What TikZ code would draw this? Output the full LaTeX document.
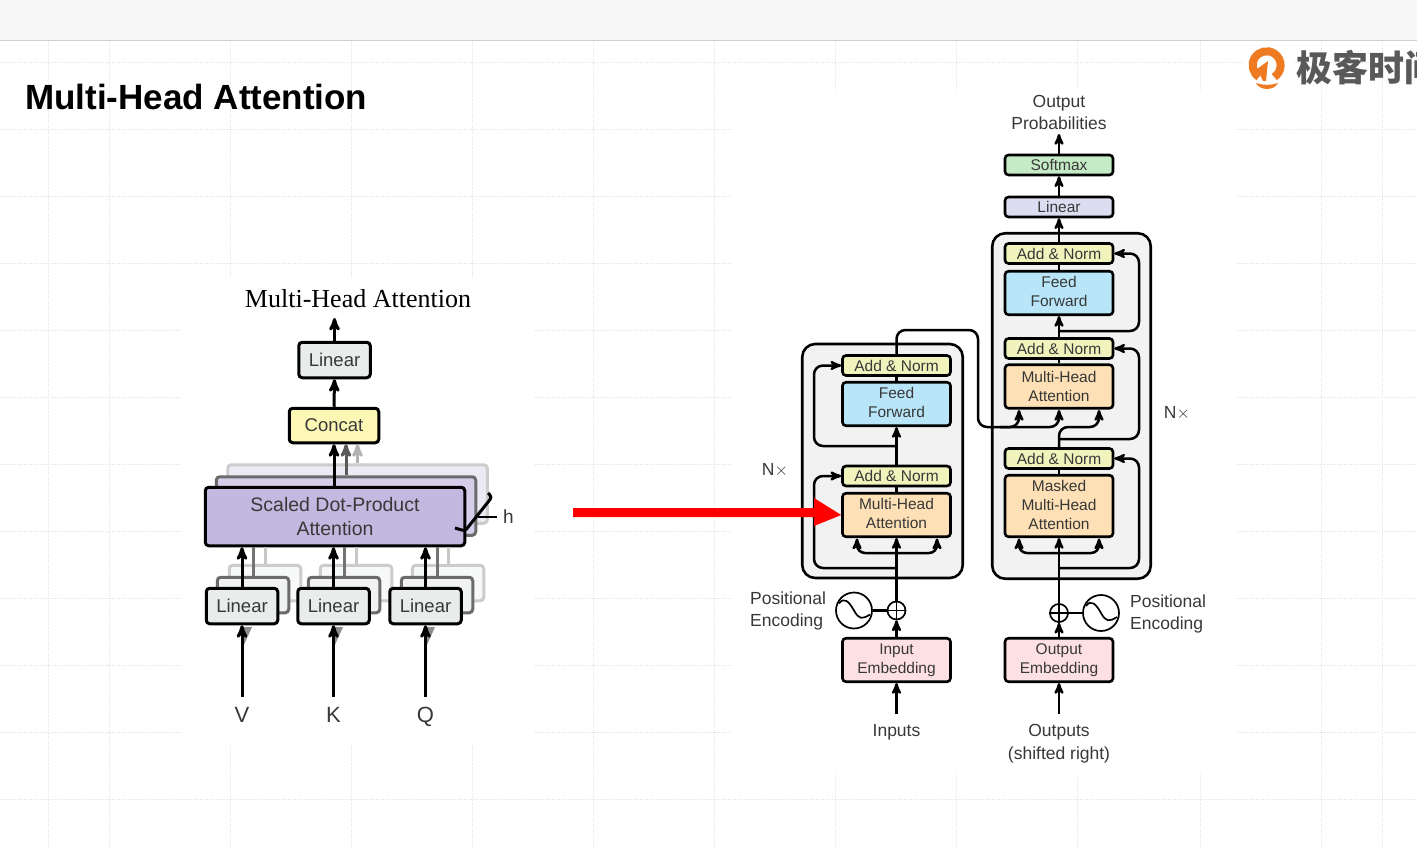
\documentclass[tikz,border=0pt]{standalone}
\usepackage{fontspec}
\setmainfont{Liberation Sans}
\newfontfamily\serifface{Liberation Serif}
\newfontfamily\cjk{Noto Sans CJK SC}
\usetikzlibrary{arrows}

\definecolor{txtgray}{HTML}{383838}
\definecolor{linearfill}{HTML}{E8ECEA}
\definecolor{concatfill}{HTML}{FCF7B4}
\definecolor{dotfill}{HTML}{C3B8DF}
\definecolor{normfill}{HTML}{F0F4BC}
\definecolor{feedfill}{HTML}{B8E6F8}
\definecolor{attnfill}{HTML}{FDE0B5}
\definecolor{embedfill}{HTML}{FDE0E2}
\definecolor{softfill}{HTML}{C5EBC6}
\definecolor{outlinfill}{HTML}{DCDDF1}
\definecolor{stackfill}{HTML}{F2F2F2}
\definecolor{logoorange}{HTML}{EE7A22}

\tikzset{
  block/.style={draw=black, line width=2.6pt, rounded corners=3.5pt, text=txtgray, align=center,
    inner sep=0pt, font=\fontsize{15.5}{19}\selectfont},
  bigblock/.style={block, line width=3pt, font=\fontsize{18.5}{24}\selectfont},
  smallbox/.style={bigblock, minimum width=71.5pt, minimum height=35.5pt, fill=linearfill},
  dotbox/.style={bigblock, minimum width=259.5pt, minimum height=58.5pt},
  wide/.style={block, minimum width=108pt},
  label/.style={text=txtgray, align=center, inner sep=0pt, font=\fontsize{17.5}{22.5}\selectfont},
  letter/.style={label, anchor=base, font=\fontsize{22}{26}\selectfont},
  wire/.style={line width=2.5pt, ->},
  bigwire/.style={line width=3pt, ->},
  thinwire/.style={line width=1.7pt},
  summer/.style={draw=black, circle, fill=white, line width=1.7pt, minimum size=18pt, inner sep=0pt},
  sinebox/.style={draw=black, circle, line width=1.7pt, minimum size=36pt, inner sep=0pt},
  stack/.style={draw=black, line width=2.6pt, rounded corners=13pt, fill=stackfill},
  gridline/.style={draw=black!11, line width=0.8pt, dash pattern=on 1pt off 1.2pt}
}

\begin{document}
\begin{tikzpicture}[x=1pt, y=-1pt, >=stealth']
    \useasboundingbox (0,0) rectangle (1417,848);
    \fill[white] (0,0) rectangle (1417,848);

    % page behind the slide
    \foreach \gy in {62,129,196,263,330,397,464,531,598,665,732,799}
        \draw[gridline] (0,\gy) -- (1417,\gy);
    \foreach \gx in {48,109,230,351,472,593,714,835,956,1077,1200,1321,1382}
        \draw[gridline] (\gx,41) -- (\gx,848);
    \fill[white] (183,278) rectangle (533,745);
    \fill[white] (733,90) rectangle (1235,772);
    \fill[black!3] (0,0) rectangle (1417,40);
    \draw[black!18, line width=1pt] (0,40.5) -- (1417,40.5);

    \node[anchor=west, inner sep=0pt, font=\bfseries\fontsize{35}{40}\selectfont] at (25,97) (slidetitle) {Multi-Head Attention};

    % logo
    \fill[white] (1245,44) rectangle (1292,92);
    \draw[logoorange, line width=8pt] (1259,77) arc[start angle=123, end angle=417, radius=14];
    \fill[logoorange] (1257,69) -- (1268,61) -- (1266,81) -- (1263,81) -- cycle;
    \fill[logoorange] (1256,83) .. controls (1263,85.5) and (1271,85.5) .. (1278,83) .. controls (1274,91) and (1260,91) .. (1256,83) -- cycle;
    \node[anchor=west, inner sep=0pt, text=black!65, font=\cjk\bfseries\fontsize{36}{40}\selectfont] at (1296,68) (logotext) {极客时间};

    % left figure
    \node[inner sep=0pt, font=\serifface\fontsize{26}{30}\selectfont] at (358,299) (mhatitle) {Multi-Head Attention};
    \node[smallbox] at (334.5,360) (toplinear) {Linear};
    \node[bigblock, minimum width=89.5pt, minimum height=34.5pt, fill=concatfill] at (334,425.5) (concat) {Concat};
    \coordinate (mhaout) at (334.5,318);

    \node[dotbox, draw=black!20, fill=dotfill!30] at (357.5,494) (dotc) {};
    \node[dotbox, draw=black!58, fill=dotfill!70] at (346,506) (dotb) {};
    \draw[bigwire, black!30] (dotc.north) -- (dotc.north |- concat.south);
    \draw[bigwire, black!65] (dotb.north) -- (dotb.north |- concat.south);
    \node[dotbox, fill=dotfill, font=\fontsize{19.5}{24}\selectfont] at (335,516.5) (dota) {Scaled Dot-Product\\Attention};

    \node[smallbox, draw=black!20, fill=linearfill!35] at (265,583) (vlinc) {};
    \node[smallbox, draw=black!58, fill=linearfill!65] at (253,595) (vlinb) {};
    \node[smallbox, draw=black!20, fill=linearfill!35] at (356,583) (klinc) {};
    \node[smallbox, draw=black!58, fill=linearfill!65] at (344,595) (klinb) {};
    \node[smallbox, draw=black!20, fill=linearfill!35] at (448,583) (qlinc) {};
    \node[smallbox, draw=black!58, fill=linearfill!65] at (437,595) (qlinb) {};
    \draw[line width=3pt, black!22] (vlinc.north) -- (vlinc.north |- dota.south);
    \draw[line width=3pt, black!55] (vlinb.north) -- (vlinb.north |- dota.south);
    \draw[line width=3pt, black!22] (klinc.north) -- (klinc.north |- dota.south);
    \draw[line width=3pt, black!55] (klinb.north) -- (klinb.north |- dota.south);
    \draw[line width=3pt, black!22] (qlinc.north) -- (qlinc.north |- dota.south);
    \draw[line width=3pt, black!55] (qlinb.north) -- (qlinb.north |- dota.south);
    \node[smallbox] at (242,606) (vlin) {Linear};
    \node[smallbox] at (333.5,606) (klin) {Linear};
    \node[smallbox] at (425.5,606) (qlin) {Linear};

    \node[letter] at (242,722) (vname) {V};
    \node[letter] at (333.5,722) (kname) {K};
    \node[letter] at (425.5,722) (qname) {Q};
    \coordinate (vfoot) at (242,697);
    \coordinate (kfoot) at (333.5,697);
    \coordinate (qfoot) at (425.5,697);
    \fill[black!45] (243,627) -- (252,627) -- (243,647) -- cycle;
    \fill[black!45] (334,627) -- (343,627) -- (334,647) -- cycle;
    \fill[black!45] (426,627) -- (435,627) -- (426,647) -- cycle;
    \draw[bigwire] (vfoot) -- (vlin.south);
    \draw[bigwire] (kfoot) -- (klin.south);
    \draw[bigwire] (qfoot) -- (qlin.south);
    \draw[bigwire] (vlin.north) -- (vlin.north |- dota.south);
    \draw[bigwire] (klin.north) -- (klin.north |- dota.south);
    \draw[bigwire] (qlin.north) -- (qlin.north |- dota.south);
    \draw[bigwire] (dota.north -| concat.south) -- (concat.south);
    \draw[bigwire] (concat.north) -- (toplinear.south);
    \draw[bigwire] (toplinear.north) -- (mhaout);

    \node[label, font=\fontsize{19}{22}\selectfont] at (508.5,517) (hname) {h};
    \coordinate (htick) at (478,516.5);
    \coordinate (htickend) at (497,516.5);
    \draw[line width=2pt] (htick) -- (htickend);
    \draw[line width=3pt, rounded corners=3pt] (455,528) -- (465,531) -- (492,497) -- (488,493);

    % encoder
    \node[stack, minimum width=160.5pt, minimum height=234pt] at (882.5,461) (encstack) {};
    \node[wide, minimum height=20pt, fill=normfill] at (896.5,365.5) (encnorma) {Add \& Norm};
    \node[wide, minimum height=43.5pt, fill=feedfill, text depth=4pt] at (896.5,404) (encfeed) {Feed\\Forward};
    \node[wide, minimum height=20pt, fill=normfill] at (896.5,476) (encnormb) {Add \& Norm};
    \node[wide, minimum height=43.5pt, fill=attnfill, text depth=4pt] at (896.5,515) (encattn) {Multi-Head\\Attention};
    \node[wide, minimum height=43.5pt, fill=embedfill] at (896.5,660) (encembed) {Input\\Embedding};
    \node[summer] at (896.5,610.5) (encplus) {};
    \node[sinebox] at (854,610.5) (encsine) {};
    \node[label, align=left, anchor=west] at (750,611) (encpos) {Positional\\Encoding};
    \node[label] at (896.5,732) (encinput) {Inputs};
    \node[label] at (775,470) (encnx) {N$\times$};
    \coordinate (encsplita) at (896.5,446);
    \coordinate (encsplitb) at (896.5,568);
    \coordinate (inputfoot) at (896.5,714);
    \coordinate (enckey) at (857,538.5);
    \coordinate (encval) at (937,538.5);

    \draw[wire] (inputfoot) -- (encembed.south);
    \draw[wire] (encembed.north) -- (encplus.south);
    \draw[wire] (encplus.north) -- (encattn.south);
    \draw[line width=2.5pt] (encattn.north) -- (encnormb.south);
    \draw[wire] (encnormb.north) -- (encfeed.south);
    \draw[line width=2.5pt] (encfeed.north) -- (encnorma.south);
    \draw[wire, rounded corners=9pt] (encsplitb) -- (814,568) |- (encnormb.west);
    \draw[wire, rounded corners=9pt] (encsplita) -- (814,446) |- (encnorma.west);
    \draw[line width=2.5pt, <->, rounded corners=8pt] (enckey) -- (857,553) -- (937,553) -- (encval);
    \draw[line width=2.5pt] (encsine.east) -- (encplus.west);
    \draw[thinwire] (encplus.west) -- (encplus.east);
    \draw[thinwire] (encplus.north) -- (encplus.south);
    \draw[thinwire] (encsine.center) ++(-15,-7) .. controls +(5,-7) and +(-5,-9) .. ++(15,7) .. controls +(5,9) and +(-8,5) .. ++(16,4);

    % decoder
    \node[stack, minimum width=158.5pt, minimum height=345.5pt] at (1071.5,406) (decstack) {};
    \node[wide, minimum height=20pt, fill=softfill] at (1059,165) (decsoft) {Softmax};
    \node[wide, minimum height=20pt, fill=outlinfill] at (1059,207) (declinear) {Linear};
    \node[wide, minimum height=20pt, fill=normfill] at (1059,253.5) (decnorma) {Add \& Norm};
    \node[wide, minimum height=43.5pt, fill=feedfill, text depth=4pt] at (1059,293) (decfeed) {Feed\\Forward};
    \node[wide, minimum height=20pt, fill=normfill] at (1059,348.5) (decnormb) {Add \& Norm};
    \node[wide, minimum height=43.5pt, fill=attnfill] at (1059,386.5) (deccross) {Multi-Head\\Attention};
    \node[wide, minimum height=20pt, fill=normfill] at (1059,458.5) (decnormc) {Add \& Norm};
    \node[wide, minimum height=61.5pt, fill=attnfill, text depth=2pt] at (1059,506) (decmask) {Masked\\Multi-Head\\Attention};
    \node[wide, minimum height=43.5pt, fill=embedfill] at (1059,660) (decembed) {Output\\Embedding};
    \node[summer] at (1059,613) (decplus) {};
    \node[sinebox] at (1101,613) (decsine) {};
    \node[label, align=left, anchor=west] at (1130,614) (decpos) {Positional\\Encoding};
    \node[label] at (1059,743.5) (decinput) {Outputs\\(shifted right)};
    \node[label] at (1059,112.5) (decprob) {Output\\Probabilities};
    \node[label] at (1177,413) (decnx) {N$\times$};
    \coordinate (outputfoot) at (1059,714);
    \coordinate (decsplita) at (1059,331);
    \coordinate (decsplitb) at (1059,439);
    \coordinate (decsplitc) at (1059,568);
    \coordinate (deckey) at (1019,538.5);
    \coordinate (decval) at (1099,538.5);
    \coordinate (crossa) at (1019,410);
    \coordinate (crossb) at (1059,410);
    \coordinate (crossc) at (1099,410);
    \coordinate (decout) at (1059,134);

    \draw[wire] (outputfoot) -- (decembed.south);
    \draw[wire] (decembed.north) -- (decplus.south);
    \draw[wire] (decplus.north) -- (decmask.south);
    \draw[line width=2.5pt] (decmask.north) -- (decnormc.south);
    \draw[wire, rounded corners=9pt] (decnormc.north) -- (1059,427) -- (1099,427) -- (crossc);
    \draw[line width=2.5pt] (deccross.north) -- (decnormb.south);
    \draw[wire] (decnormb.north) -- (decfeed.south);
    \draw[line width=2.5pt] (decfeed.north) -- (decnorma.south);
    \draw[wire] (decnorma.north) -- (declinear.south);
    \draw[wire] (declinear.north) -- (decsoft.south);
    \draw[wire] (decsoft.north) -- (decout);
    \draw[wire, rounded corners=9pt] (decsplitc) -- (1139,568) |- (decnormc.east);
    \draw[wire, rounded corners=9pt] (decsplitb) -- (1139,439) |- (decnormb.east);
    \draw[wire, rounded corners=9pt] (decsplita) -- (1139,331) |- (decnorma.east);
    \draw[line width=2.5pt, <->, rounded corners=8pt] (deckey) -- (1019,553) -- (1099,553) -- (decval);
    \draw[line width=2.5pt] (decsine.west) -- (decplus.east);
    \draw[thinwire] (decplus.west) -- (decplus.east);
    \draw[thinwire] (decplus.north) -- (decplus.south);
    \draw[thinwire] (decsine.center) ++(-15,-7) .. controls +(5,-7) and +(-5,-9) .. ++(15,7) .. controls +(5,9) and +(-8,5) .. ++(16,4);

    % encoder output into the decoder
    \draw[wire, rounded corners=9pt] (encnorma.north) -- (896.5,330) -- (978,330) -- (978,427) -- (1019,427) -- (crossa);
    \draw[wire, rounded corners=9pt] (1000,427) -- (1059,427) -- (crossb);

    % red pointer
    \coordinate (pointerstart) at (573,512.5);
    \fill[red] (pointerstart) ++(0,-4.5) -- (814,508) -- (814,498) -- (encattn.west) -- (814,526) -- (814,517) -- (573,517) -- cycle;
\end{tikzpicture}
\end{document}
